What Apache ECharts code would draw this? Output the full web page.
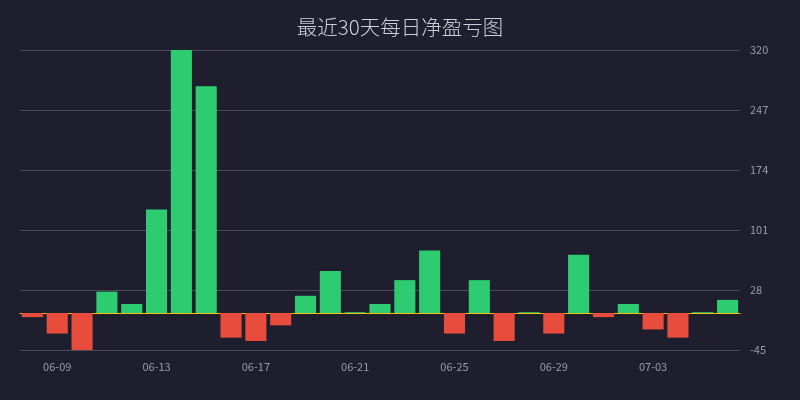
<!DOCTYPE html>
<html><head><meta charset="utf-8">
<script src="https://cdn.jsdelivr.net/npm/echarts@6/dist/echarts.min.js"></script>
<style>html,body{margin:0;padding:0;background:#1e1e2e;}#c{width:800px;height:400px;}</style>
</head><body><div id="c"></div>
<script>
const categories = ['06-08','06-09','06-10','06-11','06-12','06-13','06-14','06-15','06-16','06-17','06-18','06-19','06-20','06-21','06-22','06-23','06-24','06-25','06-26','06-27','06-28','06-29','06-30','07-01','07-02','07-03','07-04','07-05','07-06'];
const netPnl = [-5,-25,-45,26,11,126,320,276,-30,-34,-15,21,51,1,11,40,76,-25,40,-34,1,-25,71,-5,11,-20,-30,1,16];
const yTicks = {min:-45, max:320, interval:73};
const title = '最近30天每日净盈亏图';

const chart = echarts.init(document.getElementById('c'));
chart.setOption({
  backgroundColor:'#1e1e2e',
  textStyle:{fontFamily:'"Noto Sans CJK SC", "Noto Sans", sans-serif'},
  title:{text:title,left:'center',top:12,textStyle:{color:'#cfcfd6',fontSize:20.5,fontWeight:300,fontFamily:'"Noto Sans CJK SC"'}},
  grid:{left:20,right:60,top:50,bottom:50,containLabel:false,outerBoundsMode:'none'},
  xAxis:{type:'category',data:categories,
    axisLine:{onZero:true,lineStyle:{color:'#f1c40f',width:1}},
    axisTick:{show:false},
    axisLabel:{color:'#9a9aa6',fontSize:11,margin:11,interval:(i)=>i%4===1}},
  yAxis:{type:'value',position:'right',min:yTicks.min,max:yTicks.max,interval:yTicks.interval,
    axisLine:{show:false},axisTick:{show:false},
    axisLabel:{color:'#9a9aa6',fontSize:11,margin:10},
    splitLine:{lineStyle:{color:'#4a4a58',width:1}}},
  series:[{type:'bar',data:netPnl.map(v=>({value:v,itemStyle:{color:v>=0?'#2ecc71':'#e74c3c'}})),
    barCategoryGap:'15%'}]
});
</script></body></html>
